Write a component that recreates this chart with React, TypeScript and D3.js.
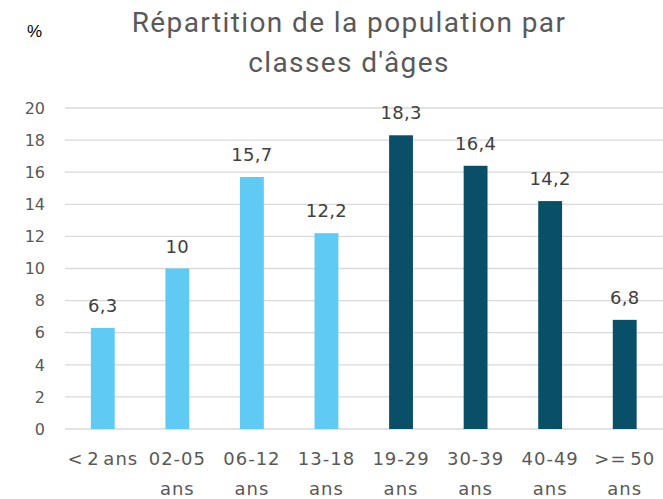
import React, { useEffect, useRef } from 'react';
import * as d3 from 'd3';

const categories = ['< 2 ans', '02-05 ans', '06-12 ans', '13-18 ans', '19-29 ans', '30-39 ans', '40-49 ans', '>= 50 ans'];
const values = [6.3, 10, 15.7, 12.2, 18.3, 16.4, 14.2, 6.8];
const groups = ['jeune', 'jeune', 'jeune', 'jeune', 'adulte', 'adulte', 'adulte', 'adulte'];
const yTicks = [0, 2, 4, 6, 8, 10, 12, 14, 16, 18, 20];
const titleLines = ['Répartition de la population par', "classes d'âges"];

const W = 663;
const H = 499;
const FONT = 'DejaVu Sans, sans-serif';

const App = () => {
  const svgRef = useRef<SVGSVGElement>(null);

  useEffect(() => {
    const svg = d3.select(svgRef.current);
    svg.selectAll('*').remove();

    const x = d3.scaleBand()
      .domain(categories)
      .range([65.5, 662])
      .paddingInner(0.68)
      .paddingOuter(0.34);

    const y = d3.scaleLinear()
      .domain([0, 20])
      .range([429, 108]);

    const color = d3.scaleOrdinal<string>()
      .domain(['jeune', 'adulte'])
      .range(['#5FCAF3', '#0A4F68']);

    // gridlines
    svg.append('g')
      .selectAll('line')
      .data(yTicks)
      .enter()
      .append('line')
      .attr('x1', 65)
      .attr('x2', 663)
      .attr('y1', d => y(d))
      .attr('y2', d => y(d))
      .attr('stroke', '#D9D9D9')
      .attr('stroke-width', 1.3);

    // y tick labels
    svg.append('g')
      .selectAll('text')
      .data(yTicks)
      .enter()
      .append('text')
      .attr('x', 45)
      .attr('y', d => y(d))
      .attr('dy', '0.36em')
      .attr('text-anchor', 'end')
      .attr('font-family', FONT)
      .attr('font-size', 16)
      .attr('fill', '#595959')
      .text(d => d);

    // bars
    svg.append('g')
      .selectAll('rect')
      .data(values)
      .enter()
      .append('rect')
      .attr('x', (_, i) => x(categories[i])!)
      .attr('y', d => y(d))
      .attr('width', x.bandwidth())
      .attr('height', d => y(0) - y(d))
      .attr('fill', (_, i) => color(groups[i]));

    // value labels
    svg.append('g')
      .selectAll('text')
      .data(values)
      .enter()
      .append('text')
      .attr('x', (_, i) => x(categories[i])! + x.bandwidth() / 2)
      .attr('y', d => y(d) - 16)
      .attr('text-anchor', 'middle')
      .attr('font-family', FONT)
      .attr('font-size', 18)
      .attr('letter-spacing', 0.3)
      .attr('fill', '#404040')
      .text(d => String(d).replace('.', ','));

    // category labels (wrapped like Excel)
    const cat = svg.append('g')
      .selectAll('text')
      .data(categories)
      .enter()
      .append('text')
      .attr('text-anchor', 'middle')
      .attr('font-family', FONT)
      .attr('font-size', 18)
      .attr('letter-spacing', 1)
      .attr('word-spacing', -3)
      .attr('fill', '#595959');

    cat.each(function (d, i) {
      const cx = x(d)! + x.bandwidth() / 2;
      const t = d3.select(this);
      if (i === 0) {
        t.append('tspan').attr('x', cx).attr('y', 465).text(d);
      } else {
        const k = d.lastIndexOf(' ');
        t.append('tspan').attr('x', cx).attr('y', 465).text(d.slice(0, k));
        t.append('tspan').attr('x', cx).attr('y', 495).text(d.slice(k + 1));
      }
    });

    // title
    svg.append('g')
      .selectAll('text')
      .data(titleLines)
      .enter()
      .append('text')
      .attr('x', 349)
      .attr('y', (_, i) => 32 + i * 40)
      .attr('text-anchor', 'middle')
      .attr('font-family', 'Roboto, sans-serif')
      .attr('font-size', 28)
      .attr('letter-spacing', 1.4)
      .attr('fill', '#595959')
      .text(d => d);

    // unit
    svg.append('text')
      .attr('x', 27)
      .attr('y', 37)
      .attr('font-family', 'Liberation Sans, Arial, sans-serif')
      .attr('font-size', 17)
      .attr('fill', '#000000')
      .text('%');
  }, []);

  return (
    <div style={{ position: 'absolute', left: 0, top: 0 }}>
      <svg ref={svgRef} width={W} height={H} style={{ display: 'block', background: '#fff' }}></svg>
    </div>
  );
};

export default App;
